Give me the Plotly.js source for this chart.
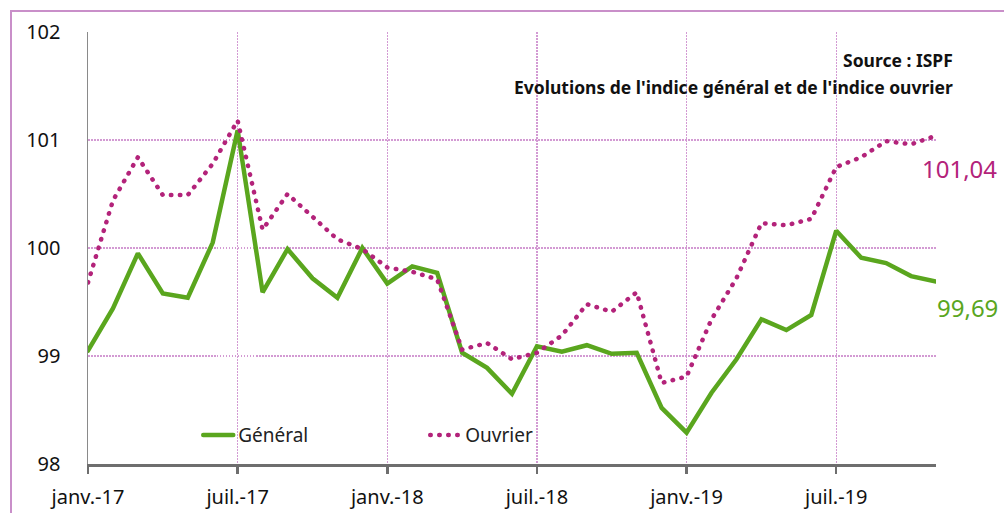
<!DOCTYPE html>
<html>
<head>
<meta charset="utf-8">
<script src="https://cdn.plot.ly/plotly-3.0.1.min.js"></script>
<style>
html,body{margin:0;padding:0;background:#fff;}
#wrap{position:relative;width:1004px;height:513px;overflow:hidden;}
#chart{width:1004px;height:513px;}
#frame{position:absolute;left:10px;top:10px;width:1100px;height:600px;border-top:2px solid #c98fc9;border-left:2px solid #c98fc9;pointer-events:none;}
#chart path.js-line{stroke-linecap:round !important;}
</style>
</head>
<body>
<div id="wrap"><div id="chart"></div><div id="frame"></div></div>
<script>
// Months (Jan 2017 - Nov 2019)
const months = [
  "janv.-17","févr.-17","mars-17","avr.-17","mai-17","juin-17","juil.-17","août-17","sept.-17","oct.-17","nov.-17","déc.-17",
  "janv.-18","févr.-18","mars-18","avr.-18","mai-18","juin-18","juil.-18","août-18","sept.-18","oct.-18","nov.-18","déc.-18",
  "janv.-19","févr.-19","mars-19","avr.-19","mai-19","juin-19","juil.-19","août-19","sept.-19","oct.-19","nov.-19"
];
const general = [
  99.05, 99.44, 99.95, 99.58, 99.54, 100.05, 101.09, 99.59, 99.99, 99.72, 99.54, 100.00,
  99.67, 99.83, 99.77, 99.03, 98.89, 98.65, 99.09, 99.04, 99.10, 99.02, 99.03, 98.52,
  98.29, 98.66, 98.97, 99.34, 99.24, 99.38, 100.16, 99.91, 99.86, 99.74, 99.69
];
const ouvrier = [
  99.68, 100.44, 100.84, 100.49, 100.49, 100.78, 101.18, 100.17, 100.50, 100.29, 100.08, 99.99,
  99.82, 99.78, 99.71, 99.06, 99.12, 98.97, 99.03, 99.19, 99.48, 99.41, 99.59, 98.75,
  98.81, 99.34, 99.72, 100.23, 100.21, 100.27, 100.75, 100.84, 100.99, 100.96, 101.04
];
const tickLabels = ["janv.-17","juil.-17","janv.-18","juil.-18","janv.-19","juil.-19"];
const yTicks = [98, 99, 100, 101, 102];
const titleText = "Evolutions de l'indice général et de l'indice ouvrier";
const sourceText = "Source : ISPF";
const seriesNames = ["Général", "Ouvrier"];

const GREEN = "#5aa61e";
const MAGENTA = "#b3237a";
const GRID = "#d39ad3";
const FONT = "Noto Sans, Open Sans, sans-serif";

const traces = [
  {
    x: months, y: general, name: seriesNames[0], type: "scatter", mode: "lines",
    line: {color: GREEN, width: 4.5}, hoverinfo: "skip"
  },
  {
    x: months, y: ouvrier, name: seriesNames[1], type: "scatter", mode: "lines",
    line: {color: MAGENTA, width: 4.5, dash: "0.5px,8.5px"}, hoverinfo: "skip"
  }
];

const last = months.length - 1;
const layout = {
  width: 1004, height: 513,
  margin: {l: 88, r: 68, t: 32, b: 49},
  paper_bgcolor: "#ffffff", plot_bgcolor: "#ffffff",
  font: {family: FONT, color: "#111111", size: 19},
  showlegend: true,
  legend: {
    orientation: "h", x: 0.13, xanchor: "left", y: 0.067, yanchor: "middle",
    bgcolor: "rgba(0,0,0,0)", font: {family: FONT, size: 19, color: "#222"},
    entrywidth: 182, entrywidthmode: "pixels", traceorder: "normal"
  },
  xaxis: {
    type: "category", range: [0, last],
    tickmode: "array", tickvals: tickLabels, ticktext: tickLabels,
    showgrid: true, gridcolor: GRID, griddash: "1.5px,1.5px", gridwidth: 1.2,
    showline: true, linecolor: "#6e6e6e", linewidth: 2.5,
    ticks: "outside", ticklen: 7, tickwidth: 2.5, tickcolor: "#6e6e6e",
    tickfont: {family: FONT, size: 20, color: "#111"}, ticklabelstandoff: 6,
    zeroline: false, fixedrange: true
  },
  yaxis: {
    range: [98, 102], tickmode: "array", tickvals: yTicks, ticktext: yTicks.map(String),
    showgrid: true, gridcolor: GRID, griddash: "1.5px,1.5px", gridwidth: 1.2,
    showline: true, linecolor: "#8a8a8a", linewidth: 1.5,
    ticks: "", tickfont: {family: FONT, size: 20, color: "#111"}, ticklabelstandoff: 22,
    zeroline: false, fixedrange: true
  },
  annotations: [
    {xref: "paper", yref: "paper", x: 1.0225, y: 0.935, xanchor: "right", yanchor: "middle",
     text: "<b>" + sourceText + "</b>", showarrow: false, font: {family: FONT, size: 17.5, color: "#111"}},
    {xref: "paper", yref: "paper", x: 1.0225, y: 0.873, xanchor: "right", yanchor: "middle",
     text: "<b>" + titleText + "</b>", showarrow: false, font: {family: FONT, size: 17.5, color: "#111"}},
    {x: months[last], y: ouvrier[last], xanchor: "left", yanchor: "middle", xshift: -16, yshift: -33,
     text: ouvrier[last].toFixed(2).replace(".", ","), showarrow: false,
     font: {family: FONT, size: 24, color: MAGENTA}},
    {x: months[last], y: general[last], xanchor: "left", yanchor: "middle", xshift: -1, yshift: -26,
     text: general[last].toFixed(2).replace(".", ","), showarrow: false,
     font: {family: FONT, size: 24, color: GREEN}}
  ]
};

Plotly.newPlot("chart", traces, layout, {staticPlot: true, displayModeBar: false});
</script>
</body>
</html>
